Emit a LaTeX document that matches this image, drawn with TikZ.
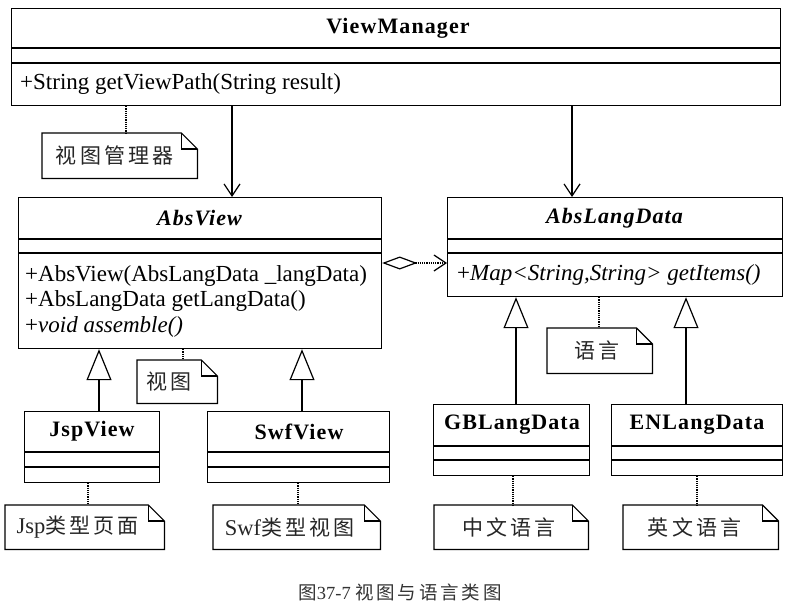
\documentclass[tikz,border=0pt]{standalone}
\usepackage{fontspec}
\setmainfont{Liberation Serif}
\newfontfamily\cjk{Noto Sans CJK SC}[LetterSpace=15]
\newfontfamily\tfont{Liberation Serif}[LetterSpace=5]
\usetikzlibrary{arrows.meta}
\newcommand\drawnote[1]{%
  \draw[lw] (#1.north west) -- ([xshift=-16pt]#1.north east) -- ([yshift=-16pt]#1.north east) -- (#1.south east) -- (#1.south west) -- cycle;
  \draw[lw] ([xshift=-16pt]#1.north east) |- ([yshift=-16pt]#1.north east);}
\tikzset{
  lw/.style={line width=1.2pt},
  box/.style={draw, line width=1.2pt, inner sep=0pt, anchor=north west},
  ttl/.style={font=\tfont\fontsize{22}{26}\selectfont\bfseries, inner sep=0pt},
  ittl/.style={font=\tfont\fontsize{22}{26}\selectfont\bfseries\itshape, inner sep=0pt},
  mth/.style={font=\fontsize{23}{25.5}\selectfont, inner sep=0pt, anchor=west, align=left},
  notebox/.style={inner sep=0pt, anchor=north west},
  notetxt/.style={font=\cjk\fontsize{21}{24}\selectfont, text=black!85, inner sep=0pt},
  link/.style={densely dotted, line width=1.2pt},
  dep/.style={line width=1.2pt, -{Straight Barb[length=12pt,width=16pt]}},
  agg/.style={line width=1.2pt, densely dotted, {Diamond[open,length=35pt,width=13pt]}-{Straight Barb[length=12pt,width=16pt]}},
  inh/.style={line width=1.2pt, -{Triangle[length=31pt,width=25pt,fill=white]}},
}
\begin{document}
\begin{tikzpicture}[x=1pt,y=-1pt]
\useasboundingbox[fill=white] (0,0) rectangle (791,605);

% ---------- ViewManager ----------
\node[box, minimum width=769pt, minimum height=97pt] (vm) at (11,8) {};
\draw[lw] (11,48) -- (780,48);
\draw[lw] (11,63) -- (780,63);
\node[ttl] (vmt) at (398,28) {ViewManager};
\node[mth] (vmm) at (20,84) {+String getViewPath(String result)};

% ---------- AbsView ----------
\node[box, minimum width=363pt, minimum height=151pt] (av) at (18,197) {};
\draw[lw] (18,239) -- (381,239);
\draw[lw] (18,253) -- (381,253);
\node[ittl] (avt) at (199.5,218) {AbsView};
\node[mth] (avm) at (25,301) {+AbsView(AbsLangData \_langData)\\+AbsLangData getLangData()\\+\textit{void assemble()}};

% ---------- AbsLangData ----------
\node[box, minimum width=335pt, minimum height=99pt] (al) at (447,197) {};
\draw[lw] (447,239) -- (782,239);
\draw[lw] (447,253) -- (782,253);
\node[ittl] (alt) at (614.5,218) {AbsLangData};
\node[mth] (alm) at (457,275) {+\textit{Map<String,String> getItems()}};

% ---------- JspView ----------
\node[box, minimum width=135pt, minimum height=71pt] (jsp) at (24,411) {};
\draw[lw] (24,452) -- (159,452);
\draw[lw] (24,467) -- (159,467);
\node[ttl] (jspt) at (92,431.5) {JspView};

% ---------- SwfView ----------
\node[box, minimum width=182pt, minimum height=71pt] (swf) at (207,411) {};
\draw[lw] (207,452) -- (389,452);
\draw[lw] (207,467) -- (389,467);
\node[ttl] (swft) at (299,431.5) {SwfView};

% ---------- GBLangData ----------
\node[box, minimum width=156pt, minimum height=71pt] (gb) at (433,404) {};
\draw[lw] (433,446) -- (589,446);
\draw[lw] (433,460) -- (589,460);
\node[ttl] (gbt) at (512,425) {GBLangData};

% ---------- ENLangData ----------
\node[box, minimum width=171pt, minimum height=71pt] (en) at (611,404) {};
\draw[lw] (611,446) -- (782,446);
\draw[lw] (611,460) -- (782,460);
\node[ttl] (ent) at (697,425) {ENLangData};

% ---------- notes ----------
\node[notebox, minimum width=155pt, minimum height=45pt] (nvm) at (42,133) {};
\drawnote{nvm}
\node[notetxt] at ([xshift=-5pt]nvm.center) {视图管理器};

\node[notebox, minimum width=80pt, minimum height=43pt] (nav) at (137,360) {};
\drawnote{nav}
\node[notetxt] at ([xshift=-8pt]nav.center) {视图};

\node[notebox, minimum width=105pt, minimum height=45pt] (nal) at (547,328) {};
\drawnote{nal}
\node[notetxt] at ([xshift=-3pt]nal.center) {语言};

\node[notebox, minimum width=159pt, minimum height=44pt] (njsp) at (5,505) {};
\drawnote{njsp}
\node[notetxt] at ([xshift=-7pt]njsp.center) {{\rmfamily\fontsize{22.5}{24}\selectfont Jsp}类型页面};

\node[notebox, minimum width=167pt, minimum height=44pt] (nswf) at (213,505) {};
\drawnote{nswf}
\node[notetxt] at ([xshift=-7pt]nswf.center) {{\rmfamily\fontsize{22.5}{24}\selectfont Swf}类型视图};

\node[notebox, minimum width=154pt, minimum height=44pt] (ngb) at (434,505) {};
\drawnote{ngb}
\node[notetxt] at ([xshift=-2pt]ngb.center) {中文语言};

\node[notebox, minimum width=155pt, minimum height=44pt] (nen) at (623,505) {};
\drawnote{nen}
\node[notetxt] at ([xshift=-6pt]nen.center) {英文语言};

% ---------- connector x/y positions ----------
\coordinate (xa) at (232,0);
\coordinate (xb) at (572,0);
\coordinate (yagg) at (0,263);
\coordinate (xj) at (99,0);
\coordinate (xs) at (302,0);
\coordinate (xg) at (516,0);
\coordinate (xe) at (686,0);
\coordinate (d1) at (126,0);
\coordinate (d2) at (183,0);
\coordinate (d3) at (599,0);
\coordinate (d4) at (88,0);
\coordinate (d5) at (298,0);
\coordinate (d6) at (513,0);
\coordinate (d7) at (697,0);

% dependencies
\draw[dep] (vm.south -| xa) -- (av.north -| xa);
\draw[dep] (vm.south -| xb) -- (al.north -| xb);
\draw[agg] (av.east |- yagg) -- (al.west |- yagg);

% generalizations
\draw[inh] (jsp.north -| xj) -- (av.south -| xj);
\draw[inh] (swf.north -| xs) -- (av.south -| xs);
\draw[inh] (gb.north -| xg) -- (al.south -| xg);
\draw[inh] (en.north -| xe) -- (al.south -| xe);

% note links
\draw[link] (vm.south -| d1) -- (nvm.north -| d1);
\draw[link] (av.south -| d2) -- (nav.north -| d2);
\draw[link] (al.south -| d3) -- (nal.north -| d3);
\draw[link] (jsp.south -| d4) -- (njsp.north -| d4);
\draw[link] (swf.south -| d5) -- (nswf.north -| d5);
\draw[link] (gb.south -| d6) -- (ngb.north -| d6);
\draw[link] (en.south -| d7) -- (nen.north -| d7);

% caption
\node[font=\fontsize{18.5}{20}\selectfont, text=black!80, inner sep=0pt] (cap) at (400,592) {{\cjk 图}37-7 {\cjk 视图与语言类图}};
\end{tikzpicture}
\end{document}
